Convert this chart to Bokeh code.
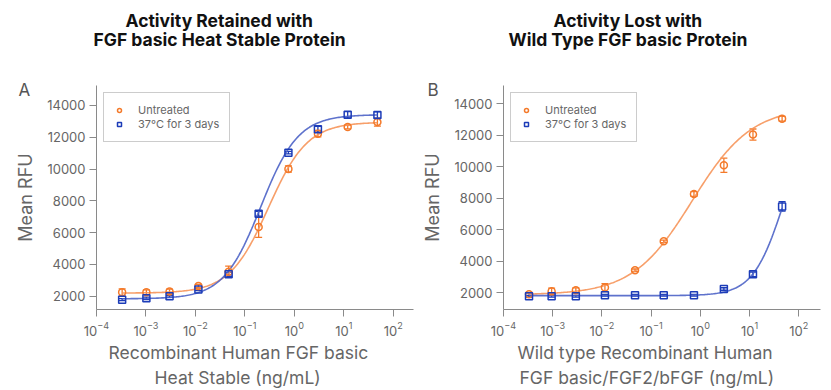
import numpy as np
from bokeh.plotting import figure
from bokeh.models import (Range1d, ColumnDataSource, Whisker, TeeHead, Legend, LegendItem,
                          Title, FixedTicker, LogTicker)
from bokeh.layouts import row
from bokeh.embed import file_html
from bokeh.resources import INLINE

# ---------------- data ----------------
conc_a = [3.3e-4, 1.02e-3, 3.0e-3, 1.15e-2, 4.7e-2, 0.19, 0.76, 3.0, 12.0, 47.9]
a_untreated = [2250, 2250, 2300, 2650, 3550, 6350, 10000, 12220, 12640, 12950]
a_untreated_err = [220, 150, 150, 100, 350, 650, 200, 200, 120, 250]
a_heated = [1790, 1870, 2000, 2420, 3380, 7190, 11030, 12500, 13410, 13400]
a_heated_err = [60, 80, 60, 60, 120, 150, 80, 180, 200, 200]

conc_b = [3.3e-4, 9.5e-4, 2.95e-3, 1.15e-2, 4.7e-2, 0.18, 0.74, 3.0, 11.7, 45.7]
b_untreated = [1915, 2100, 2170, 2340, 3440, 5275, 8275, 10100, 12050, 13050]
b_untreated_err = [80, 200, 150, 250, 80, 80, 150, 450, 350, 150]
b_heated = [1790, 1790, 1790, 1850, 1850, 1850, 1850, 2250, 3180, 7490]
b_heated_err = [50, 50, 50, 50, 50, 50, 50, 80, 150, 300]

# 4-parameter logistic fit parameters: bottom, top, EC50, hill
fit_a_untreated = (2200, 12950, 0.30, 1.10)
fit_a_heated = (1840, 13420, 0.21, 1.15)
fit_b_untreated = (1880, 13800, 0.68, 0.72)
fit_b_heated = (1830, 13500, 49.0, 1.40)

y_ticks = [2000, 4000, 6000, 8000, 10000, 12000, 14000]
labels = ["Untreated", "37\u00b0C for 3 days"]

ORANGE = "#F47A2A"
BLUE = "#1C3CB8"
ORANGE_LINE = "#F6955A"
BLUE_LINE = "#4C63C6"
FONT = "Inter"


def fit_curve(x0, x1, params):
    b, t, ec, h = params
    xs = np.logspace(np.log10(x0), np.log10(x1), 200)
    ys = b + (t - b) / (1.0 + (ec / xs) ** h)
    return xs, ys


def panel(letter, letter_off, titles, xlabels, conc, y1, e1, f1, y2, e2, f2,
          xmax, ymin, ymax, width, left_border, right_border):
    p = figure(width=width, height=390, x_axis_type="log",
               x_range=Range1d(1e-4, xmax), y_range=Range1d(ymin, ymax),
               output_backend="svg", toolbar_location=None,
               min_border_left=left_border, min_border_right=right_border,
               min_border_top=85, min_border_bottom=81,
               background_fill_color="white", border_fill_color="white",
               outline_line_color=None)
    p.grid.visible = False

    for ax in (p.xaxis[0], p.yaxis[0]):
        ax.axis_line_color = "#8a8a8a"
        ax.major_tick_line_color = "#8a8a8a"
        ax.minor_tick_line_color = None
        ax.major_tick_in = 0
        ax.major_tick_out = 7
        ax.major_label_standoff = 4
        ax.major_label_text_font = FONT
        ax.major_label_text_font_size = "13px"
        ax.major_label_text_color = "#666666"
    p.xaxis.ticker = LogTicker(num_minor_ticks=0)
    p.yaxis.ticker = FixedTicker(ticks=y_ticks)
    p.yaxis.axis_label = "Mean RFU"
    p.yaxis.axis_label_text_font = FONT
    p.yaxis.axis_label_text_font_size = "18px"
    p.yaxis.axis_label_text_font_style = "normal"
    p.yaxis.axis_label_text_color = "#666666"
    p.yaxis.axis_label_standoff = 8

    # fitted curves
    cx, cy = fit_curve(conc[0], conc[-1], f1)
    p.line(cx, cy, line_color=ORANGE_LINE, line_width=1.6, line_alpha=0.9)
    cx, cy = fit_curve(conc[0], conc[-1], f2)
    p.line(cx, cy, line_color=BLUE_LINE, line_width=1.6, line_alpha=0.9)

    renderers = []
    for ys, es, col, marker in ((y1, e1, ORANGE, "circle"), (y2, e2, BLUE, "square")):
        src = ColumnDataSource(dict(x=conc, y=ys,
                                    lo=[v - e for v, e in zip(ys, es)],
                                    hi=[v + e for v, e in zip(ys, es)]))
        w = Whisker(source=src, base="x", lower="lo", upper="hi",
                    line_color=col, line_width=1.3,
                    upper_head=TeeHead(size=7, line_color=col, line_width=1.3),
                    lower_head=TeeHead(size=7, line_color=col, line_width=1.3))
        p.add_layout(w)
        r = p.scatter("x", "y", source=src, marker=marker, size=7,
                      fill_color="white", fill_alpha=0.0,
                      line_color=col, line_width=1.5)
        renderers.append(r)

    legend = Legend(items=[LegendItem(label=labels[0], renderers=[renderers[0]]),
                           LegendItem(label=labels[1], renderers=[renderers[1]])],
                    location=(7, 167), orientation="vertical",
                    label_text_font=FONT, label_text_font_size="11px",
                    label_text_color="#666666", label_text_line_height=1.0,
                    label_height=12, glyph_height=12, glyph_width=10,
                    label_standoff=14, spacing=-3, padding=10, margin=0,
                    border_line_color="#9a9a9a", border_line_width=1,
                    background_fill_alpha=1.0)
    p.add_layout(legend, "center")

    # above: panel letter (nearest frame), spacer, then the two title lines
    p.add_layout(Title(text=letter, align="left", offset=letter_off,
                       vertical_align="bottom",
                       text_font=FONT, text_font_size="17px", text_font_style="normal",
                       text_color="#555555", standoff=-28), "above")
    p.add_layout(Title(text=" ", text_font=FONT, text_font_size="28px",
                       text_line_height=1.0, standoff=0), "above")
    (t1, o1), (t2, o2) = titles
    for txt, off, so in ((t2, o2, 0), (t1, o1, -9)):
        p.add_layout(Title(text=txt, align="left", offset=off, text_font=FONT,
                           text_font_size="17.5px", text_font_style="bold",
                           text_line_height=0.92,
                           text_color="#111111", standoff=so), "above")
    # below: the two x-axis label lines
    for txt, off in xlabels:
        p.add_layout(Title(text=txt, align="left", offset=off, text_font=FONT,
                           text_font_size="17.5px", text_font_style="normal",
                           text_color="#666666", standoff=2), "below")
    return p


pa = panel("A", -78,
           [("Activity Retained with", 29), ("FGF basic Heat Stable Protein", -3)],
           [("Recombinant Human FGF basic", 12), ("Heat Stable (ng/mL)", 58)],
           conc_a, a_untreated, a_untreated_err, fit_a_untreated,
           a_heated, a_heated_err, fit_a_heated,
           xmax=10 ** 2.41, ymin=1170, ymax=15250, width=415,
           left_border=96, right_border=2)
pb = panel("B", -76,
           [("Activity Lost with", 50), ("Wild Type FGF basic Protein", 5)],
           [("Wild type Recombinant Human", 14), ("FGF basic/FGF2/bFGF (ng/mL)", 16)],
           conc_b, b_untreated, b_untreated_err, fit_b_untreated,
           b_heated, b_heated_err, fit_b_heated,
           xmax=10 ** 2.44, ymin=950, ymax=15160, width=416,
           left_border=88, right_border=11)

layout = row(pa, pb)
open("out.html", "w").write(file_html(layout, INLINE))
